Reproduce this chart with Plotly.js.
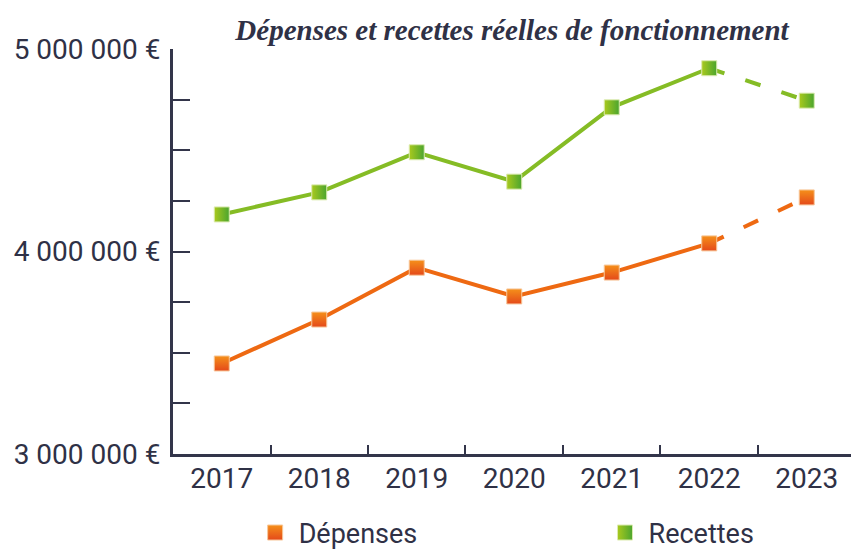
<!DOCTYPE html>
<html><head><meta charset="utf-8">
<script src="https://cdn.plot.ly/plotly-3.0.1.min.js"></script>
<style>html,body{margin:0;padding:0;background:#fff}</style>
</head><body><div id="chart" style="width:851px;height:549px"></div>
<script>
const years = ['2017','2018','2019','2020','2021','2022','2023'];
const depenses = [3447000, 3664000, 3920000, 3778000, 3896000, 4040000, 4267000];
const recettes = [4183000, 4292000, 4490000, 4345000, 4712000, 4905000, 4745000];
const yTickVals = [3000000,3250000,3500000,3750000,4000000,4250000,4500000,4750000,5000000];
const yTickText = ['3 000 000 €','','','','4 000 000 €','','','','5 000 000 €'];

const n = years.length;
const solidX = years.slice(0, n-1);
const dashX = years.slice(n-2);
const textColor = '#2f3146';
const orangeLine = '#ee6912', greenLine = '#85bc25';
const baseFont = 'Roboto, sans-serif';
const fw = 400;

const traces = [
  {x: solidX, y: depenses.slice(0,n-1), mode:'lines', line:{color:orangeLine,width:4}, showlegend:false, hoverinfo:'skip'},
  {x: dashX, y: depenses.slice(n-2), mode:'lines', line:{color:orangeLine,width:4,dash:'16px,22px'}, showlegend:false, hoverinfo:'skip'},
  {x: solidX, y: recettes.slice(0,n-1), mode:'lines', line:{color:greenLine,width:4}, showlegend:false, hoverinfo:'skip'},
  {x: dashX, y: recettes.slice(n-2), mode:'lines', line:{color:greenLine,width:4,dash:'16px,22px'}, showlegend:false, hoverinfo:'skip'},
  {x: years, y: depenses, name:'Dépenses', mode:'markers', legend:'legend',
   marker:{symbol:'square', size:15, color:'#f5901a', gradient:{type:'vertical', color:'#e4491a'}, line:{color:'#f7c79a', width:1}}},
  {x: years, y: recettes, name:'Recettes', mode:'markers', legend:'legend2',
   marker:{symbol:'square', size:15, color:'#a9c91e', gradient:{type:'horizontal', color:'#4ba52e'}, line:{color:'#dcebb0', width:1}}}
];

const legendFont = {family:baseFont, size:27, weight:fw, color:textColor};
const tickFont = {family:baseFont, size:28, weight:fw, color:textColor};
const layout = {
  width: 851, height: 549,
  margin: {l:173, r:0, t:49, b:95, autoexpand:false},
  paper_bgcolor:'#fff', plot_bgcolor:'#fff',
  font: {family:baseFont, color:textColor, size:28, weight:fw},
  title: {text:'<b><i>Dépenses et recettes réelles de fonctionnement</i></b>', x:0.5, xref:'paper', y:0.945, yref:'container', yanchor:'middle',
          font:{family:'Liberation Serif, serif', size:29, color:textColor}},
  xaxis: {type:'category', range:[-0.5, 6.454], showgrid:false, zeroline:false,
          showline:true, linecolor:'#33354a', linewidth:3,
          ticks:'inside', tickson:'boundaries', ticklen:9, tickwidth:2, tickcolor:'#33354a',
          tickfont:tickFont, ticklabelstandoff:-3},
  yaxis: {range:[3000000, 5000000], showgrid:false, zeroline:false,
          showline:true, linecolor:'#33354a', linewidth:3,
          tickmode:'array', tickvals: yTickVals, ticktext: yTickText,
          ticks:'inside', ticklen:17, tickwidth:2, tickcolor:'#33354a',
          tickfont:tickFont, ticklabelstandoff:4},
  legend: {orientation:'h', x:0.116, xanchor:'left', y:-0.195, yanchor:'middle', font:legendFont, itemwidth:37},
  legend2: {orientation:'h', x:0.632, xanchor:'left', y:-0.195, yanchor:'middle', font:legendFont, itemwidth:37},
  showlegend: true
};
Plotly.newPlot('chart', traces, layout, {displayModeBar:false, staticPlot:true});
</script></body></html>
